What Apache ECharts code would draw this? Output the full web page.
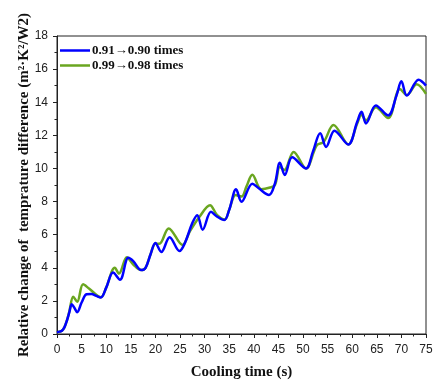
<!DOCTYPE html>
<html>
<head>
<meta charset="utf-8">
<script src="https://cdn.jsdelivr.net/npm/echarts@6/dist/echarts.min.js"></script>
<style>
html,body{margin:0;padding:0;background:#fff;}
#chart{width:438px;height:385px;}
</style>
</head>
<body>
<div id="chart"></div>
<script>
// Series names
var seriesNames = ['0.91\u21920.90 times', '0.99\u21920.98 times'];

// Blue series (0.91->0.90 times): cooling time (s) and values
var blueTime = [0, 0.5, 1, 1.5, 2, 2.5, 3, 3.5, 4.1, 5, 6, 7, 8, 8.9, 10, 11.4, 12.8, 14.5, 15.5, 17.1, 18, 19, 20, 21.2, 22.9, 24.9, 26, 27.5, 28.5, 29.6, 31.3, 32.5, 34, 35, 36.4, 37.5, 39.7, 41, 43.1, 44.3, 45.3, 46.3, 47.8, 50.6, 52, 53.5, 54.7, 56.4, 59.2, 61, 61.9, 62.8, 64.8, 67.3, 69, 70, 71.1, 73.5, 75];
var blueValue = [0.1, 0.14, 0.2, 0.4, 0.8, 1.3, 1.8, 1.6, 1.32, 1.9, 2.4, 2.42, 2.3, 2.2, 2.8, 3.72, 3.28, 4.6, 4.4, 3.86, 4.0, 4.8, 5.5, 4.95, 5.85, 5.01, 5.5, 6.7, 7.18, 6.3, 7.38, 7.1, 6.88, 7.5, 8.74, 7.99, 9.08, 8.8, 8.4, 9.1, 10.35, 9.6, 10.67, 10.0, 11.0, 12.12, 11.3, 12.28, 11.45, 12.8, 13.42, 12.72, 13.8, 13.2, 14.4, 15.26, 14.4, 15.36, 15.0];

// Green series (0.99->0.98 times)
var greenTime = [0, 0.5, 1, 1.5, 2, 2.5, 3.3, 4.1, 5.3, 6.5, 8.9, 10, 11.75, 12.6, 14.2, 15.5, 17.1, 18, 19, 20, 20.8, 22.7, 25.5, 27, 29, 31.1, 32.5, 34.1, 35, 36.3, 37.5, 38.5, 39.7, 41.5, 43.3, 44.3, 45.3, 46.2, 48.1, 50.6, 52.8, 54.2, 56.2, 59.2, 61, 61.9, 62.8, 64.8, 67.3, 69.7, 71.1, 73.1, 75];
var greenValue = [0.1, 0.14, 0.2, 0.4, 0.8, 1.35, 2.25, 1.95, 3.0, 2.75, 2.22, 2.8, 4.0, 3.65, 4.63, 4.2, 3.86, 4.0, 4.8, 5.45, 5.45, 6.38, 5.38, 6.2, 7.1, 7.78, 7.2, 6.92, 7.5, 8.4, 8.3, 8.9, 9.62, 8.75, 8.85, 9.0, 10.1, 9.9, 11.0, 10.0, 11.4, 11.6, 12.62, 11.45, 12.7, 13.25, 12.9, 13.7, 13.05, 14.8, 14.43, 15.08, 14.5];

// Axis settings
var xMin = 0, xMax = 75, xStep = 5;
var yMin = 0, yMax = 18, yStep = 2;
var xTitle = 'Cooling time (s)';
var yTitle = 'Relative change of  temprature difference (m\u00B2\u00B7K\u00B2/W2)';

function zip(a, b) { return a.map(function (v, i) { return [v, b[i]]; }); }

var chart = echarts.init(document.getElementById('chart'), null, {renderer: 'canvas'});
var serif = '"Liberation Serif", "Times New Roman", serif';
var sans = '"Liberation Sans", Arial, sans-serif';

chart.setOption({
  animation: false,
  backgroundColor: '#fff',
  grid: {left: 57, right: 12, top: 36, bottom: 51, show: true, borderColor: '#222', borderWidth: 1, backgroundColor: 'transparent'},
  legend: {
    orient: 'vertical', left: 55, top: 39, itemGap: 2,
    itemWidth: 30, itemHeight: 12,
    textStyle: {fontFamily: serif, fontWeight: 'bold', fontSize: 13, color: '#111', padding: [0, 0, 0, -3]},
    data: [
      {name: seriesNames[0], icon: 'path://M0,0L30,0L30,2.5L0,2.5Z'},
      {name: seriesNames[1], icon: 'path://M0,0L30,0L30,2.5L0,2.5Z'}
    ]
  },
  xAxis: {
    type: 'value', min: xMin, max: xMax, interval: xStep,
    name: xTitle, nameLocation: 'middle', nameGap: 31,
    nameTextStyle: {fontFamily: serif, fontWeight: 'bold', fontSize: 15, color: '#111'},
    axisLine: {show: true, lineStyle: {color: '#222', width: 1}},
    axisTick: {show: true, length: 4, lineStyle: {color: '#222'}},
    minorTick: {show: true, splitNumber: 2, length: 2.5, lineStyle: {color: '#222'}},
    axisLabel: {fontFamily: sans, fontSize: 12, color: '#222', margin: 10},
    splitLine: {show: false}
  },
  yAxis: {
    type: 'value', min: yMin, max: yMax, interval: yStep,
    name: yTitle, nameLocation: 'middle', nameGap: 25, nameRotate: 90,
    nameMoveOverlap: false,
    nameTextStyle: {fontFamily: serif, fontWeight: 'bold', fontSize: 15, color: '#111'},
    axisLine: {show: true, lineStyle: {color: '#222', width: 1}},
    axisTick: {show: true, length: 4, lineStyle: {color: '#222'}},
    minorTick: {show: true, splitNumber: 2, length: 2.5, lineStyle: {color: '#222'}},
    axisLabel: {fontFamily: sans, fontSize: 12, color: '#222', margin: 9},
    splitLine: {show: false}
  },
  series: [
    {
      name: seriesNames[1], type: 'line', data: zip(greenTime, greenValue),
      smooth: 0.35, showSymbol: false, z: 2,
      lineStyle: {color: '#6aa620', width: 2.5}, itemStyle: {color: '#6aa620'}
    },
    {
      name: seriesNames[0], type: 'line', data: zip(blueTime, blueValue),
      smooth: 0.35, showSymbol: false, z: 3,
      lineStyle: {color: '#0000ff', width: 2.5}, itemStyle: {color: '#0000ff'}
    }
  ]
});
</script>
</body>
</html>
